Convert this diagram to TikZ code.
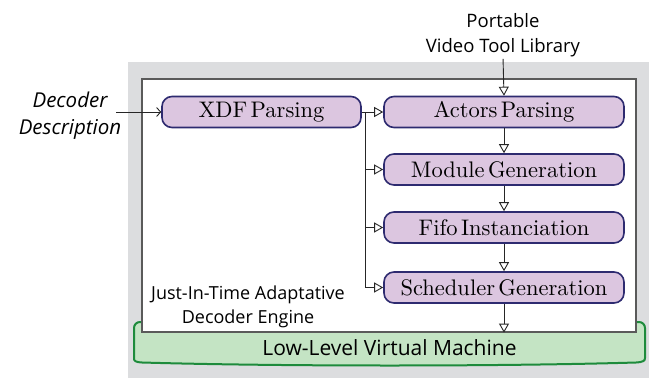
\documentclass[tikz,border=0pt]{standalone}
\usepackage{fontspec}
\newfontfamily\mysans{Open Sans}
\newfontfamily\boxfont{lmroman10-regular}[Extension=.otf, WordSpace={0.45}]
\usetikzlibrary{arrows.meta}
\definecolor{bggray}{HTML}{DCDDDF}
\definecolor{boxfill}{HTML}{DCC6E0}
\definecolor{boxline}{HTML}{2E2B70}
\definecolor{greenfill}{HTML}{C4E4C4}
\definecolor{greenline}{HTML}{1E8B3C}
\definecolor{engline}{HTML}{5A5A5A}
\begin{document}
\begin{tikzpicture}[x=1pt,y=-1pt,
  stage/.style={draw=boxline, fill=boxfill, line width=1.6pt, rounded corners=10pt,
    minimum height=31pt, inner sep=0pt, font=\boxfont\fontsize{22.5}{26}\selectfont},
  flow/.style={draw=black!85, line width=0.9pt, -{Triangle[open, length=9pt, width=10pt]}},
  wire/.style={draw=black!85, line width=0.9pt},
  sanslabel/.style={font=\mysans\fontsize{18.5}{25}\selectfont, align=center, inner sep=0pt}]
\useasboundingbox (0,0) rectangle (649,378);
% background
\fill[bggray] (128,62) rectangle (649,378);
% LLVM banner
\draw[greenline, fill=greenfill, line width=2pt]
  (134,358) -- (134,328) .. controls (134,324.7) and (136.7,322) .. (140,322)
  -- (639,322) .. controls (642.3,322) and (645,324.7) .. (645,328)
  -- (645,358) .. controls (645,361) and (643,362) .. (636,362.5)
  .. controls (500,366.5) and (280,366.5) .. (142,362.5)
  .. controls (135,362) and (134,361) .. (134,358) -- cycle;
\node[font=\mysans\fontsize{21}{25}\selectfont, anchor=base, inner sep=0pt] (llvm) at (389.5,355.5) {Low-Level Virtual Machine};
% engine box
\node[draw=engline, fill=white, line width=1.2pt, minimum width=494pt, minimum height=253pt, inner sep=0pt] (engine) at (389,205.5) {};
\node[sanslabel, font=\mysans\fontsize{18}{24.5}\selectfont] (jit) at (248,307) {Just-In-Time Adaptative\\Decoder Engine};
% stages
\node[stage, minimum width=199pt] (xdf) at (261.5,112) {XDF Parsing};
\node[stage, minimum width=240pt] (actors) at (504,112) {Actors Parsing};
\node[stage, minimum width=240pt] (module) at (504,169.5) {Module Generation};
\node[stage, minimum width=240pt] (fifo) at (504,227.5) {Fifo Instanciation};
\node[stage, minimum width=240pt] (sched) at (504,287.5) {Scheduler Generation};
% external labels
\node[sanslabel, font=\mysans\itshape\fontsize{20.5}{27}\selectfont] (dec) at (70,116) {Decoder\\Description};
\node[sanslabel] (ptl) at (503,35) {Portable\\Video Tool Library};
\coordinate (decin) at (116,112);
\coordinate (split) at (365.5,112);
% connectors
\draw[wire, -{Straight Barb[length=4pt, width=9pt]}] (decin) -- (xdf.west);
\draw[flow, shorten <=2pt] (ptl.south) -- (actors.north);
\draw[flow] (xdf.east) -- (actors.west);
\draw[flow] (split) |- (module.west);
\draw[flow] (split) |- (fifo.west);
\draw[flow] (split) |- (sched.west);
\draw[flow] (actors.south) -- (module.north);
\draw[flow] (module.south) -- (fifo.north);
\draw[flow] (fifo.south) -- (sched.north);
\draw[flow] (sched.south) -- (sched.south |- engine.south);
\end{tikzpicture}
\end{document}
